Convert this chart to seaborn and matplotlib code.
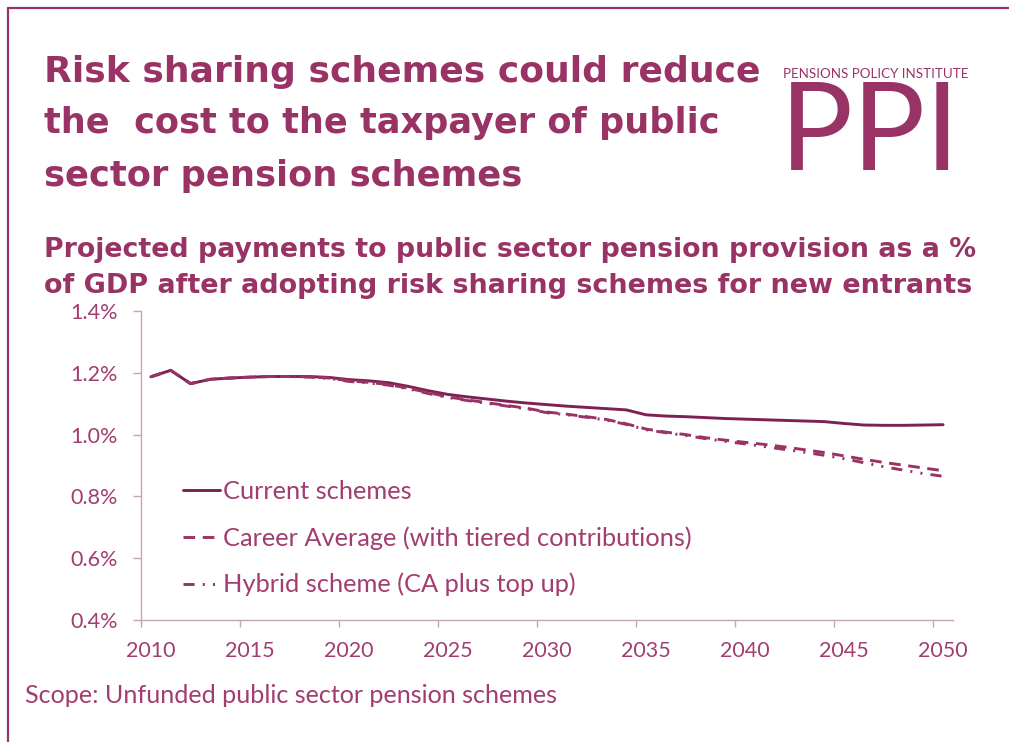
import matplotlib
matplotlib.use("Agg")
import matplotlib.pyplot as plt
from matplotlib.lines import Line2D
from matplotlib.ticker import FixedLocator, FuncFormatter
import pandas as pd
import seaborn as sns

# ---- data -------------------------------------------------------------
years = list(range(2010, 2051))

current_schemes = [
    1.187, 1.208, 1.165, 1.179, 1.183, 1.186, 1.188, 1.188, 1.188, 1.185,
    1.178, 1.174, 1.168, 1.156, 1.142, 1.130, 1.122, 1.115, 1.108, 1.102,
    1.097, 1.092, 1.088, 1.084, 1.080, 1.064, 1.060, 1.058, 1.055, 1.052,
    1.050, 1.048, 1.046, 1.044, 1.042, 1.036, 1.031, 1.030, 1.030, 1.031,
    1.032,
]
career_average = [
    1.187, 1.208, 1.165, 1.179, 1.183, 1.186, 1.188, 1.188, 1.187, 1.183,
    1.174, 1.169, 1.162, 1.150, 1.136, 1.122, 1.112, 1.103, 1.094, 1.085,
    1.073, 1.066, 1.058, 1.049, 1.035, 1.018, 1.008, 1.000, 0.990, 0.982,
    0.975, 0.968, 0.960, 0.951, 0.942, 0.931, 0.920, 0.910, 0.901, 0.892,
    0.883,
]
hybrid_scheme = [
    1.187, 1.208, 1.165, 1.179, 1.183, 1.186, 1.188, 1.188, 1.186, 1.182,
    1.172, 1.167, 1.160, 1.148, 1.133, 1.120, 1.110, 1.101, 1.092, 1.083,
    1.071, 1.064, 1.056, 1.047, 1.033, 1.016, 1.006, 0.997, 0.987, 0.978,
    0.970, 0.961, 0.952, 0.943, 0.933, 0.922, 0.909, 0.896, 0.885, 0.874,
    0.865,
]

series_names = [
    "Current schemes",
    "Career Average (with tiered contributions)",
    "Hybrid scheme (CA plus top up)",
]
x_tick_years = list(range(2010, 2051, 5))
y_ticks = [0.4, 0.6, 0.8, 1.0, 1.2, 1.4]

title_lines = [
    "Risk sharing schemes could reduce",
    "the  cost to the taxpayer of public",
    "sector pension schemes",
]
subtitle_lines = [
    "Projected payments to public sector pension provision as a %",
    "of GDP after adopting risk sharing schemes for new entrants",
]
footnote = "Scope: Unfunded public sector pension schemes"

# ---- styling ----------------------------------------------------------
PLUM = "#993366"
PLUM_DARK = "#7D2153"
TEXT = "#A13D70"
AXIS = "#C7A3B8"

sns.set_theme(style="white")
plt.rcParams["font.family"] = ["Lato", "DejaVu Sans"]

W, H = 1009, 742
fig = plt.figure(figsize=(W / 100, H / 100), dpi=100)
fig.patch.set_facecolor("white")


def fx(px):
    return px / W


def fy(py):
    return 1 - py / H


ax = fig.add_axes([fx(141), fy(620), fx(953) - fx(141), (620 - 311) / H])

df = pd.DataFrame({
    "Year": years * 3,
    "Value": current_schemes + career_average + hybrid_scheme,
    "Scheme": [series_names[0]] * len(years)
    + [series_names[1]] * len(years)
    + [series_names[2]] * len(years),
})

palette = {series_names[0]: PLUM_DARK, series_names[1]: PLUM, series_names[2]: PLUM}
dashes = {
    series_names[0]: "",
    series_names[1]: (4.0, 2.6),
    series_names[2]: (3.8, 2.8, 0.7, 2.8, 0.7, 2.8),
}

sns.lineplot(
    data=df, x="Year", y="Value", hue="Scheme", style="Scheme",
    palette=palette, dashes=dashes, hue_order=series_names,
    style_order=series_names, linewidth=2.1, ax=ax,
)

# Axes: category-style x axis (ticks at boundaries, labels at centres)
ax.set_xlim(2009.5, 2050.5)
ax.set_ylim(0.4, 1.4)
ax.set_xlabel("")
ax.set_ylabel("")

ax.xaxis.set_major_locator(FixedLocator(x_tick_years))
ax.xaxis.set_minor_locator(FixedLocator([y - 0.5 for y in x_tick_years]))
ax.yaxis.set_major_locator(FixedLocator(y_ticks))
ax.yaxis.set_major_formatter(FuncFormatter(lambda v, p: f"{v:.1f}%"))

for side in ("top", "right"):
    ax.spines[side].set_visible(False)
for side in ("left", "bottom"):
    ax.spines[side].set_color(AXIS)
    ax.spines[side].set_linewidth(1.0)

ax.tick_params(axis="x", which="major", length=0, pad=15,
               labelsize=15.5, labelcolor=TEXT)
ax.tick_params(axis="x", which="minor", length=5, width=1.0, color=AXIS,
               direction="out", bottom=True)
ax.tick_params(axis="y", which="major", length=6, width=1.0, color=AXIS,
               direction="out", left=True, pad=11, labelsize=15.5,
               labelcolor=TEXT)
ax.grid(False)

# Legend inside the plot area
handles, labels = ax.get_legend_handles_labels()
if ax.get_legend() is not None:
    ax.get_legend().remove()
leg = ax.legend(
    handles, labels, loc="center left",
    bbox_to_anchor=(fx(183), fy(538)), bbox_transform=fig.transFigure,
    frameon=False, prop={"size": 18.3},
    handlelength=1.45, handletextpad=0.12, labelspacing=0.92,
    borderaxespad=0, borderpad=0,
)
for t in leg.get_texts():
    t.set_color(TEXT)

# Header text, fitted to its measured width
renderer = fig.canvas.get_renderer()


def fitted_text(x, y, s, target_w, size, **kw):
    t = fig.text(fx(x), fy(y), s, fontsize=size, **kw)
    w = t.get_window_extent(renderer).width
    t.set_fontsize(size * target_w / w)
    return t


title_baselines = [82, 133, 186]
title_widths = [715, 673, 477]
for line, base, wd in zip(title_lines, title_baselines, title_widths):
    fitted_text(44, base, line, wd, 28, color=PLUM, fontweight="bold",
                family="DejaVu Sans", va="baseline")

for line, base, wd in zip(subtitle_lines, [257, 293], [932, 930]):
    fitted_text(44, base, line, wd, 20, color=PLUM, fontweight="bold",
                family="DejaVu Sans", va="baseline")

fitted_text(25, 703, footnote, 535, 16, color=TEXT, va="baseline")

# Organisation mark
fitted_text(783, 78, "PENSIONS POLICY INSTITUTE", 184, 8, color=PLUM,
            va="baseline")
fitted_text(780, 170, "PPI", 180, 88, color=PLUM, va="baseline")

# Page frame (top and left rules)
fig.add_artist(Line2D([fx(7.5), 1], [fy(8), fy(8)], color=PLUM, lw=1.6,
                      transform=fig.transFigure))
fig.add_artist(Line2D([fx(7.5), fx(7.5)], [fy(8), 0], color=PLUM, lw=1.6,
                      transform=fig.transFigure))

fig.savefig("out.png", dpi=100, facecolor="white")
